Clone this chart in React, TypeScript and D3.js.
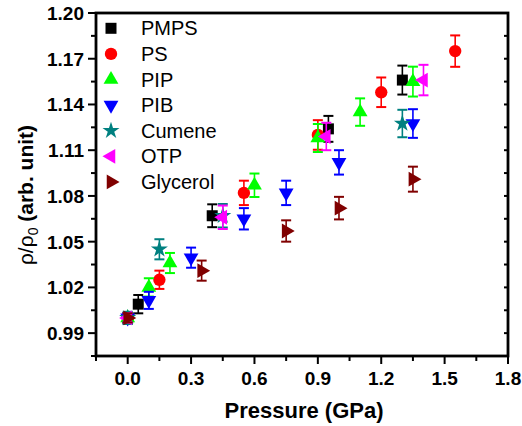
import React from "react";
import * as d3 from "d3";

const seriesNames = ["PMPS", "PS", "PIP", "PIB", "Cumene", "OTP", "Glycerol"];
const seriesColors = ["#000000", "#ff0000", "#00ff00", "#0000ff", "#008080", "#ff00ff", "#800000"];

// [pressure GPa, rho/rho0, error]
const pmps = [[0, 1.0, 0.003], [0.05, 1.009, 0.006], [0.4, 1.067, 0.0075], [0.95, 1.124, 0.0085], [1.3, 1.156, 0.0095]];
const ps = [[0, 1.0, 0.003], [0.15, 1.025, 0.006], [0.55, 1.082, 0.008], [0.9, 1.12, 0.0097], [1.2, 1.148, 0.0097], [1.55, 1.175, 0.0103]];
const pip = [[0, 1.0, 0.003], [0.1, 1.02, 0.006], [0.2, 1.036, 0.0066], [0.6, 1.087, 0.0077], [0.9, 1.118, 0.0092], [1.1, 1.135, 0.009], [1.35, 1.155, 0.0098]];
const pib = [[0, 1.0, 0.003], [0.1, 1.0115, 0.0056], [0.3, 1.0395, 0.0066], [0.55, 1.065, 0.007], [0.75, 1.082, 0.008], [1.0, 1.102, 0.008], [1.35, 1.1275, 0.0094]];
const cumene = [[0, 1.0, 0.004], [0.15, 1.045, 0.0066], [0.45, 1.067, 0.0077], [1.3, 1.1275, 0.009]];
const otp = [[0, 1.0, 0.003], [0.45, 1.066, 0.0077], [0.94, 1.119, 0.009], [1.4, 1.156, 0.01]];
const glycerol = [[0, 1.0, 0.003], [0.35, 1.031, 0.0066], [0.75, 1.057, 0.007], [1.0, 1.072, 0.0074], [1.35, 1.091, 0.0082]];

const allSeries = [pmps, ps, pip, pib, cumene, otp, glycerol];

const xTicks = [0, 0.3, 0.6, 0.9, 1.2, 1.5, 1.8];
const xMinor = [-0.15, 0.15, 0.45, 0.75, 1.05, 1.35, 1.65];
const yTicks = [0.99, 1.02, 1.05, 1.08, 1.11, 1.14, 1.17, 1.2];
const yMinor = [0.975, 1.005, 1.035, 1.065, 1.095, 1.125, 1.155, 1.185];

const L = 96, R = 508, T = 13, B = 356;
const x = d3.scaleLinear().domain([-0.15, 1.8]).range([L, R]);
const y = d3.scaleLinear().domain([0.975, 1.2]).range([B, T]);

const sym = (i: number) => {
  const g = d3.symbol();
  switch (i) {
    case 0: return { d: g.type(d3.symbolSquare).size(121)()!, rot: 0 };
    case 1: return { d: g.type(d3.symbolCircle).size(120)()!, rot: 0 };
    case 2: return { d: g.type(d3.symbolTriangle).size(95)()!, rot: 0 };
    case 3: return { d: g.type(d3.symbolTriangle).size(95)()!, rot: 180 };
    case 4: return { d: g.type(d3.symbolStar).size(90)()!, rot: 0 };
    case 5: return { d: g.type(d3.symbolTriangle).size(95)()!, rot: -90 };
    default: return { d: g.type(d3.symbolTriangle).size(95)()!, rot: 90 };
  }
};

const font = "Arial, 'Liberation Sans', sans-serif";

export default function App() {
  return (
    <svg width={522} height={426} style={{ position: "absolute", left: 0, top: 0 }} fontFamily={font}>
      <rect width={522} height={426} fill="#fff" />
      {/* data */}
      {allSeries.map((data, si) => {
        const s = sym(si);
        const c = seriesColors[si];
        return (
          <g key={si}>
            {data.map((p, k) => {
              const cx = x(p[0]), cy = y(p[1]);
              const y1 = y(p[1] + p[2]), y2 = y(p[1] - p[2]);
              return (
                <g key={k}>
                  <line x1={cx} x2={cx} y1={y1} y2={y2} stroke={c} strokeWidth={1.6} />
                  <line x1={cx - 5} x2={cx + 5} y1={y1} y2={y1} stroke={c} strokeWidth={2} />
                  <line x1={cx - 5} x2={cx + 5} y1={y2} y2={y2} stroke={c} strokeWidth={2} />
                  <path d={s.d} transform={`translate(${cx},${cy}) rotate(${s.rot})`} fill={c} />
                </g>
              );
            })}
          </g>
        );
      })}
      {/* frame */}
      <rect x={L} y={T} width={R - L} height={B - T} fill="none" stroke="#000" strokeWidth={2.8} />
      {/* x ticks */}
      {xTicks.map((t) => (
        <g key={"xt" + t}>
          <line x1={x(t)} x2={x(t)} y1={B} y2={B + 8} stroke="#000" strokeWidth={2} />
          <text x={x(t)} y={385} textAnchor="middle" fontSize={19} fontWeight="bold">{t.toFixed(1)}</text>
        </g>
      ))}
      {xMinor.map((t) => (
        <line key={"xm" + t} x1={x(t)} x2={x(t)} y1={B} y2={B + 5} stroke="#000" strokeWidth={2} />
      ))}
      {/* y ticks */}
      {yTicks.map((t) => (
        <g key={"yt" + t}>
          <line x1={L - 8} x2={L} y1={y(t)} y2={y(t)} stroke="#000" strokeWidth={2} />
          <line x1={R - 4} x2={R} y1={y(t)} y2={y(t)} stroke="#000" strokeWidth={2} />
          <text x={84} y={y(t) + 7} textAnchor="end" fontSize={19} fontWeight="bold">{t.toFixed(2)}</text>
        </g>
      ))}
      {yMinor.map((t) => (
        <g key={"ym" + t}>
          <line x1={L - 5} x2={L} y1={y(t)} y2={y(t)} stroke="#000" strokeWidth={2} />
          <line x1={R - 4} x2={R} y1={y(t)} y2={y(t)} stroke="#000" strokeWidth={2} />
        </g>
      ))}
      {/* axis titles */}
      <text x={(L + R) / 2 + 2} y={418} textAnchor="middle" fontSize={22} fontWeight="bold">Pressure (GPa)</text>
      <text transform="translate(33,195) rotate(-90)" textAnchor="middle" fontSize={21}>
        <tspan>ρ/ρ</tspan>
        <tspan fontSize={14} dy={5}>0</tspan>
        <tspan dy={-5} fontWeight="bold"> (arb. unit)</tspan>
      </text>
      {/* legend */}
      {seriesNames.map((n, i) => {
        const s = sym(i);
        const cy = 28.3 + i * 25.6;
        return (
          <g key={n}>
            <path d={s.d} transform={`translate(111,${cy}) rotate(${s.rot})`} fill={seriesColors[i]} />
            <text x={141} y={cy + 7} fontSize={20}>{n}</text>
          </g>
        );
      })}
    </svg>
  );
}
